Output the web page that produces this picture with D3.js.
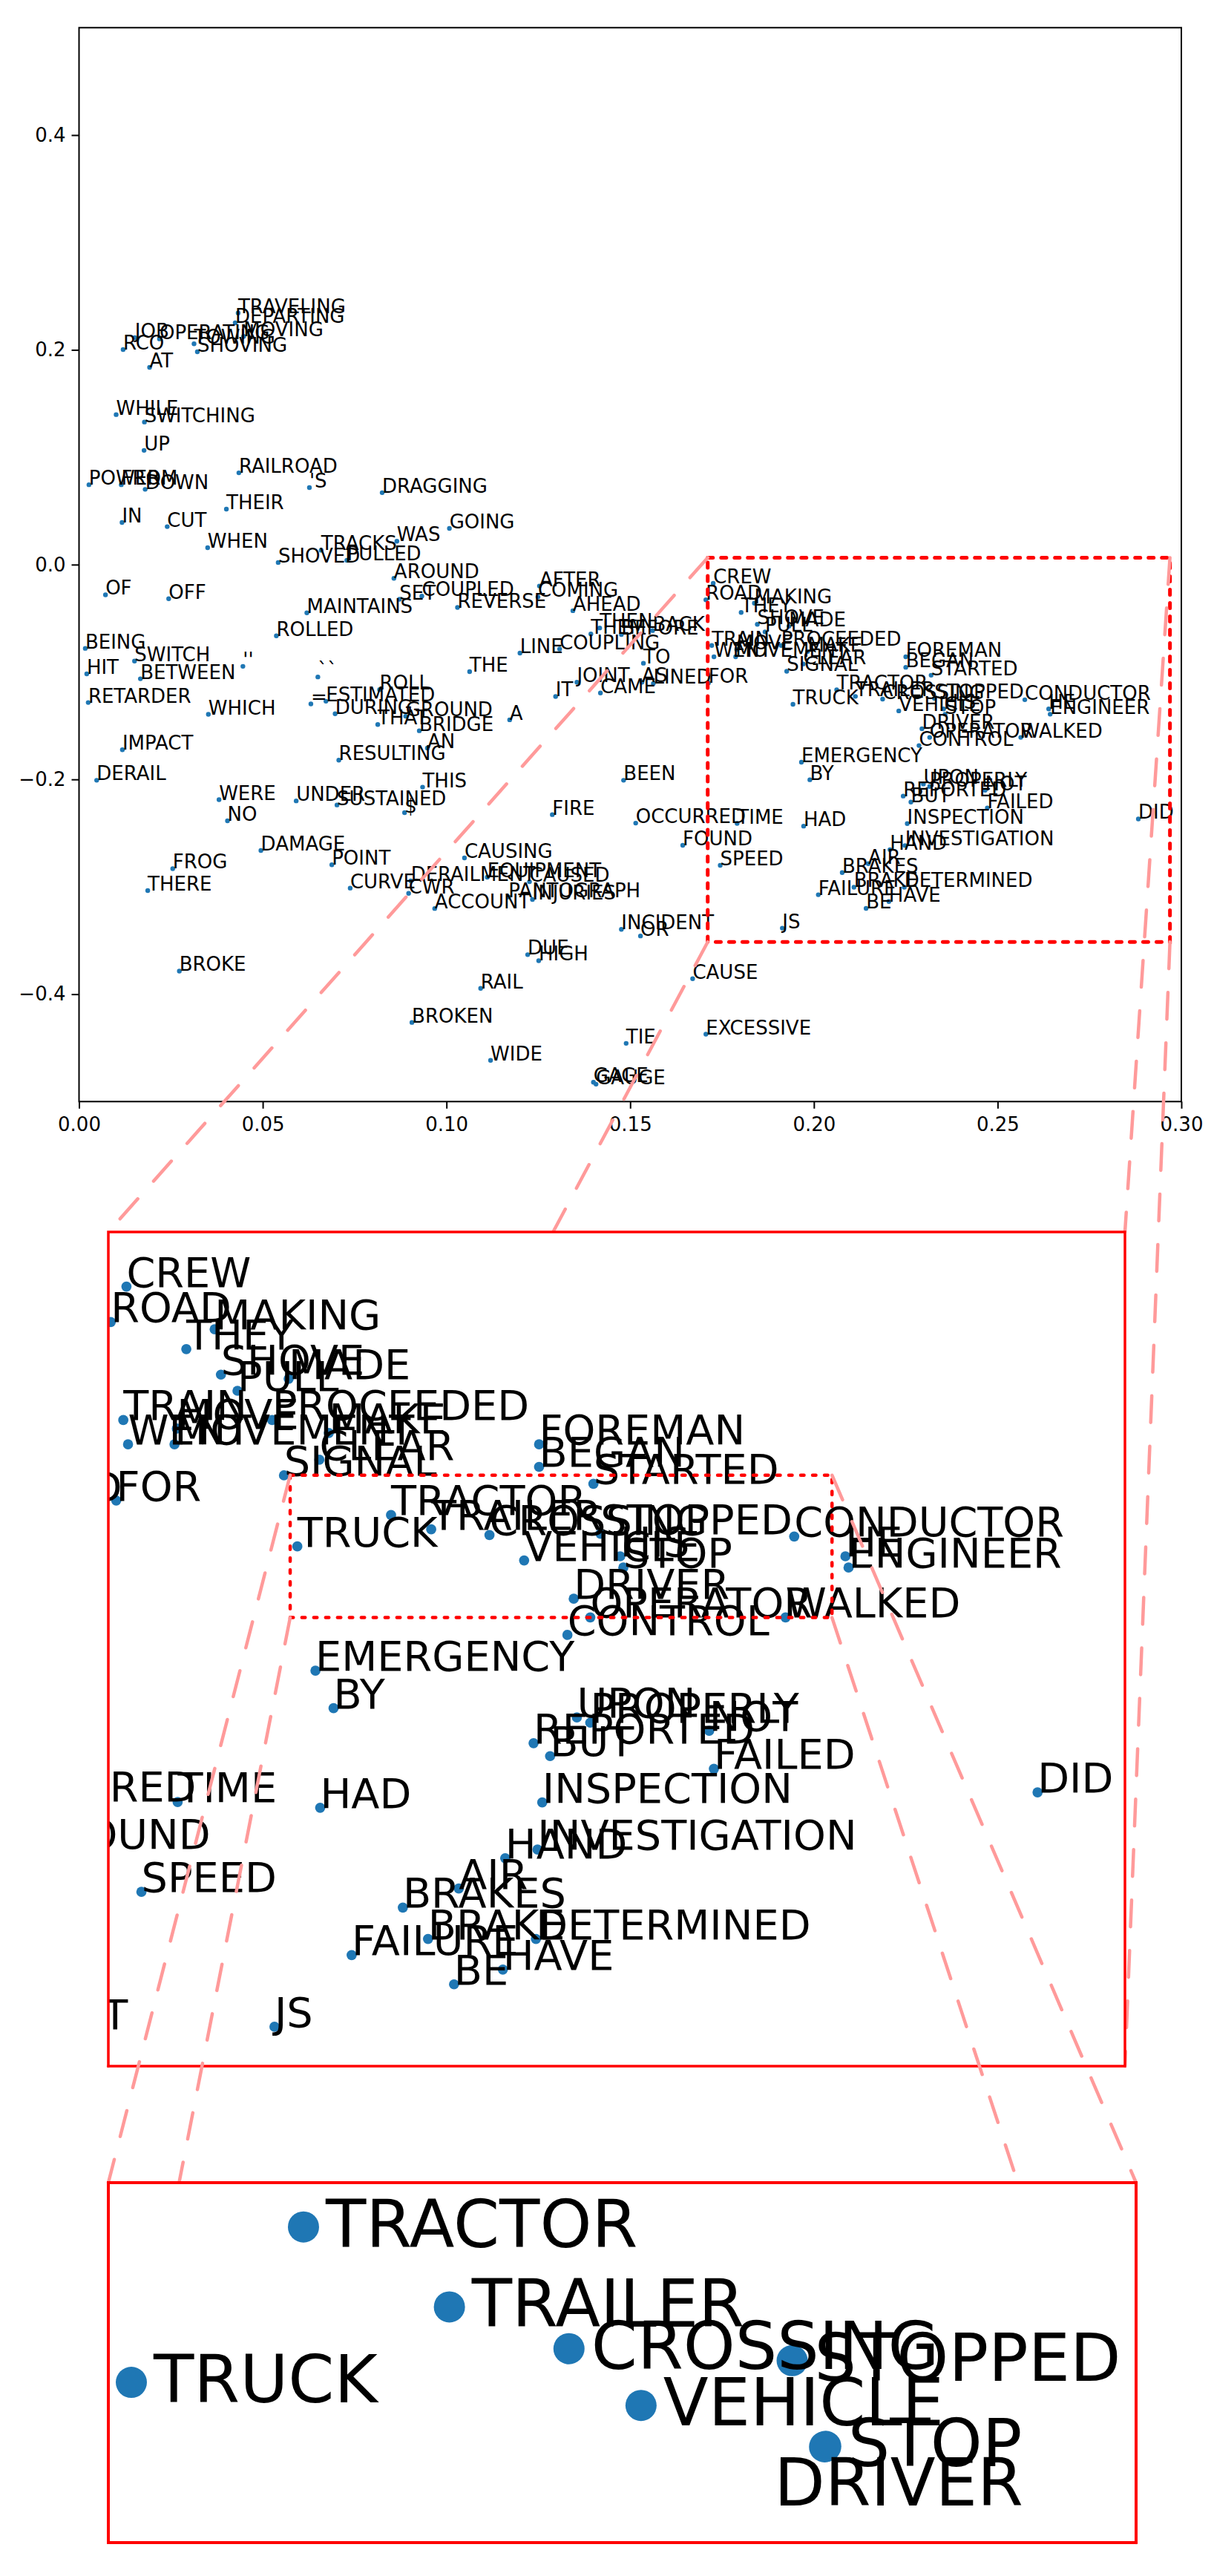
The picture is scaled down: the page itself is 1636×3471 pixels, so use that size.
<!DOCTYPE html>
<html>
<head>
<meta charset="utf-8">
<script src="https://cdn.jsdelivr.net/npm/d3@7"></script>
<style>
  body { margin: 0; background: #fff; }
  text { font-family: "DejaVu Sans", sans-serif; }
</style>
</head>
<body>
<div id="container"></div>
<script>
/**
 * DATA
 * */
const words = ["TRAVELING","DEPARTING","MOVING","JOB","OPERATING","RCO","TOWING","SHOVING","AT",
  "WHILE","SWITCHING","UP","POWER","FROM","DOWN","RAILROAD","'S","DRAGGING","THEIR","IN","CUT","WHEN",
  "GOING","WAS","TRACKS","SHOVED","PULLED","AROUND","SET","COUPLED","REVERSE","OF","OFF","MAINTAINS",
  "ROLLED","BEING","SWITCH","HIT","BETWEEN","''","``","ROLL","=","ESTIMATED","RETARDER","WHICH","DURING",
  "GROUND","A","THAT","BRIDGE","AN","RESULTING","IMPACT","DERAIL","THIS","WERE","UNDER","SUSTAINED","$",
  "NO","DAMAGE","POINT","FROG","THERE","CURVE","CWR","DERAILMENT","CAUSED","EQUIPMENT","CAUSING",
  "PANTOGRAPH","INJURIES","ACCOUNT","BROKE","BROKEN","IT","CAME","BEEN","FIRE","OCCURRED","FOUND",
  "INCIDENT","OR","DUE","HIGH","CAUSE","RAIL","TIE","EXCESSIVE","WIDE","GAGE","GAUGE","AFTER","COMING",
  "AHEAD","THEN","BACK","THEM","BEFORE","LINE","COUPLING","TO","THE","JOINT","AS","LINED","FOR",
  "CREW","ROAD","MAKING","THEY","SHOVE","MADE","PULL","PROCEEDED","TRAIN","MOVE","WENT","MOVEMENT",
  "MAKE","CLEAR","SIGNAL","FOREMAN","BEGAN","STARTED","TRACTOR","TRUCK","TRAILER","CROSSING","STOPPED",
  "CONDUCTOR","HE","ENGINEER","VEHICLE","HIS","STOP","DRIVER","OPERATOR","WALKED","CONTROL","EMERGENCY",
  "BY","UPON","PROPERLY","NOT","REPORTED","BUT","FAILED","DID","INSPECTION","TIME","HAD","INVESTIGATION",
  "HAND","SPEED","AIR","BRAKES","BRAKE","DETERMINED","FAILURE","HAVE","BE","JS"];

const xVals = [0.0433,0.0425,0.0448,0.0152,0.0219,0.0120,0.0313,0.0322,0.0192,
  0.0101,0.0178,0.0177,0.0027,0.0115,0.0180,0.0435,0.0627,0.0825,0.0401,0.0117,0.0240,0.0350,
  0.1008,0.0865,0.0659,0.0542,0.0729,0.0857,0.0872,0.0933,0.1030,0.0072,0.0244,0.0620,
  0.0537,0.0017,0.0151,0.0021,0.0167,0.0446,0.0650,0.0818,0.0631,0.0672,0.0025,0.0352,0.0697,
  0.0889,0.1172,0.0813,0.0926,0.0948,0.0707,0.0118,0.0048,0.0935,0.0381,0.0591,0.0702,0.0886,
  0.0404,0.0495,0.0688,0.0255,0.0187,0.0738,0.0897,0.0903,0.1226,0.1111,0.1049,
  0.1169,0.1234,0.0968,0.0273,0.0906,0.1297,0.1419,0.1482,0.1288,0.1515,0.1643,
  0.1476,0.1528,0.1221,0.1251,0.1670,0.1093,0.1489,0.1706,0.1120,0.1400,0.1407,0.1253,0.1249,
  0.1344,0.1417,0.1561,0.1393,0.1476,0.1200,0.1308,0.1536,0.1063,0.1355,0.1532,0.1563,0.1713,
  0.1726,0.1706,0.1838,0.1802,0.1846,0.1932,0.1867,0.1911,0.1722,0.1790,0.1728,0.1787,
  0.1983,0.1971,0.1926,0.2250,0.2250,0.2319,0.2062,0.1943,0.2113,0.2187,0.2328,
  0.2574,0.2639,0.2643,0.2231,0.2353,0.2357,0.2294,0.2315,0.2563,0.2286,0.1966,
  0.1989,0.2298,0.2315,0.2466,0.2243,0.2264,0.2472,0.2883,0.2254,0.1791,0.1972,0.2248,
  0.2207,0.1745,0.2148,0.2077,0.2109,0.2246,0.2012,0.2204,0.2142,0.1914];

const yVals = [0.2343,0.2252,0.2125,0.2113,0.2102,0.2003,0.2056,0.1982,0.1837,
  0.1397,0.1328,0.1064,0.0744,0.0744,0.0701,0.0855,0.0717,0.0670,0.0517,0.0393,0.0354,0.0158,
  0.0337,0.0218,0.0134,0.0020,0.0040,-0.0128,-0.0323,-0.0293,-0.0399,-0.0281,-0.0318,-0.0449,
  -0.0663,-0.0780,-0.0898,-0.1017,-0.1063,-0.0947,-0.1046,-0.1164,-0.1297,-0.1272,-0.1284,-0.1394,-0.1389,
  -0.1412,-0.1445,-0.1489,-0.1547,-0.1708,-0.1821,-0.1724,-0.2008,-0.2072,-0.2189,-0.2200,-0.2238,-0.2310,
  -0.2386,-0.2662,-0.2795,-0.2831,-0.3035,-0.3012,-0.3061,-0.2945,-0.2953,-0.2911,-0.2731,
  -0.3095,-0.3118,-0.3202,-0.3785,-0.4263,-0.1228,-0.1195,-0.2008,-0.2328,-0.2407,-0.2614,
  -0.3396,-0.3458,-0.3632,-0.3688,-0.3856,-0.3946,-0.4458,-0.4373,-0.4616,-0.4820,-0.4838,-0.0199,-0.0301,
  -0.0429,-0.0590,-0.0614,-0.0646,-0.0651,-0.0824,-0.0786,-0.0918,-0.0997,-0.1095,-0.1095,-0.1107,-0.1102,
  -0.0174,-0.0328,-0.0359,-0.0445,-0.0556,-0.0574,-0.0626,-0.0753,-0.0753,-0.0790,-0.0858,-0.0858,
  -0.0809,-0.0925,-0.0993,-0.0858,-0.0956,-0.1030,-0.1165,-0.1301,-0.1227,-0.1252,-0.1246,
  -0.1258,-0.1344,-0.1393,-0.1362,-0.1344,-0.1393,-0.1528,-0.1609,-0.1609,-0.1685,-0.1840,
  -0.2003,-0.2043,-0.2066,-0.2101,-0.2155,-0.2211,-0.2266,-0.2368,-0.2412,-0.2410,-0.2435,-0.2616,
  -0.2654,-0.2800,-0.2785,-0.2868,-0.3004,-0.3004,-0.3074,-0.3137,-0.3201,-0.3385];

// second zoom level, re-plotted on its own
const detailWords = ["TRUCK","TRACTOR","TRAILER","CROSSING","STOPPED","VEHICLE","STOP","DRIVER"];
const detailX = [0.19427,0.20452,0.21321,0.22033,0.23362,0.22462,0.23562,0.23555];
const detailY = [-0.13265,-0.1165,-0.12481,-0.12915,-0.13039,-0.13505,-0.1393,-0.13935];

const xTicks = [0, 0.05, 0.10, 0.15, 0.20, 0.25, 0.30];
const yTicks = [-0.4, -0.2, 0.0, 0.2, 0.4];

// zoom windows (data units)
const zoomBox = {x0: 0.1711, x1: 0.2969, y0: 0.0065, y1: -0.3514};
const zoomView = {x0: 0.1703, x1: 0.2994, y0: 0.0063, y1: -0.3556};
const subBox = {x0: 0.19339, x1: 0.26220, y0: -0.09923, y1: -0.16100};
const subView = {x0: 0.1929, x1: 0.2541, y0: -0.1119, y1: -0.1493};

// label placement in the last panel (px), DRIVER got pushed below STOP
const labelShift = {DRIVER: [-68, 79]};

const points = words.map((w, i) => ({w: w, x: xVals[i], y: yVals[i]}));
const detail = detailWords.map((w, i) => ({w: w, x: detailX[i], y: detailY[i]}));

/**
 * SETUP
 * */
const width = 1636, height = 3471;
const blue = "#1f77b4";
const pink = "#ff9a9a";

const svg = d3.select("#container").append("svg")
  .attr("width", width).attr("height", height);
svg.append("rect").attr("width", width).attr("height", height).attr("fill", "#fff");

// main axes
const x = d3.scaleLinear().domain([0, 0.3]).range([106.5, 1592]);
const y = d3.scaleLinear().domain([-0.5, 0.5]).range([1484.3, 37.3]);

const main = svg.append("g");

main.selectAll("circle").data(points).join("circle")
  .attr("cx", d => x(d.x)).attr("cy", d => y(d.y))
  .attr("r", 3.2).attr("fill", blue);

main.selectAll("text.word").data(points).join("text")
  .attr("class", "word")
  .attr("x", d => x(d.x)).attr("y", d => y(d.y))
  .style("font-size", "26px").attr("fill", "#000")
  .text(d => d.w);

const xAxis = main.append("g").attr("transform", `translate(0,${y(-0.5)})`)
  .call(d3.axisBottom(x).tickValues(xTicks).tickFormat(d3.format(".2f")).tickSize(9.5).tickPadding(12));
const yAxis = main.append("g").attr("transform", `translate(${x(0)},0)`)
  .call(d3.axisLeft(y).tickValues(yTicks).tickFormat(d3.format(".1f")).tickSize(10).tickPadding(8));
[xAxis, yAxis].forEach(g => {
  g.select(".domain").remove();
  g.selectAll("line").attr("stroke", "#000").attr("stroke-width", 2);
  g.selectAll("text").style("font-size", "26px").style("font-family", "DejaVu Sans").attr("fill", "#000");
});

main.append("rect")
  .attr("x", x(0)).attr("y", y(0.5))
  .attr("width", x(0.3) - x(0)).attr("height", y(-0.5) - y(0.5))
  .attr("fill", "none").attr("stroke", "#000").attr("stroke-width", 2);

// dotted zoom box on main
const boxPx = {l: x(zoomBox.x0), r: x(zoomBox.x1), t: y(zoomBox.y0), b: y(zoomBox.y1)};
main.append("rect")
  .attr("x", boxPx.l).attr("y", boxPx.t)
  .attr("width", boxPx.r - boxPx.l).attr("height", boxPx.b - boxPx.t)
  .attr("fill", "none").attr("stroke", "#ff0000").attr("stroke-width", 5)
  .attr("stroke-dasharray", "7,11").attr("stroke-linecap", "round");

// first inset
const p2 = {l: 146, r: 1516, t: 1660, b: 2784};
const x2 = d3.scaleLinear().domain([zoomView.x0, zoomView.x1]).range([p2.l, p2.r]);
const y2 = d3.scaleLinear().domain([zoomView.y0, zoomView.y1]).range([p2.t, p2.b]);
const mag2 = (p2.r - p2.l) / (x(zoomView.x1) - x(zoomView.x0));

function connectors(from, to) {
  const pairs = [[from.l, from.t, to.l, to.t], [from.l, from.b, to.l, to.b],
                 [from.r, from.t, to.r, to.t], [from.r, from.b, to.r, to.b]];
  svg.append("g").selectAll("line").data(pairs).join("line")
    .attr("x1", d => d[0]).attr("y1", d => d[1]).attr("x2", d => d[2]).attr("y2", d => d[3])
    .attr("stroke", pink).attr("stroke-width", 4.5)
    .attr("stroke-dasharray", "36,32").attr("stroke-linecap", "round");
}
connectors(boxPx, p2);

// only the words that can show inside the inset
const near = points.filter(d => x2(d.x) > p2.l - 420 && x2(d.x) < p2.r
  && y2(d.y) > p2.t && y2(d.y) < p2.b + 60);

svg.append("clipPath").attr("id", "clip2").append("rect")
  .attr("x", p2.l).attr("y", p2.t).attr("width", p2.r - p2.l).attr("height", p2.b - p2.t);
const inset = svg.append("g");
inset.append("rect").attr("x", p2.l).attr("y", p2.t)
  .attr("width", p2.r - p2.l).attr("height", p2.b - p2.t).attr("fill", "#fff");
const inner = inset.append("g").attr("clip-path", "url(#clip2)");
inner.selectAll("circle").data(near).join("circle")
  .attr("cx", d => x2(d.x)).attr("cy", d => y2(d.y))
  .attr("r", 3.2 * mag2).attr("fill", blue);
inner.selectAll("text").data(near).join("text")
  .attr("x", d => x2(d.x)).attr("y", d => y2(d.y))
  .style("font-size", (26 * mag2) + "px").attr("fill", "#000")
  .text(d => d.w);

const subPx = {l: x2(subBox.x0), r: x2(subBox.x1), t: y2(subBox.y0), b: y2(subBox.y1)};
inset.append("rect")
  .attr("x", subPx.l).attr("y", subPx.t)
  .attr("width", subPx.r - subPx.l).attr("height", subPx.b - subPx.t)
  .attr("fill", "none").attr("stroke", "#ff0000").attr("stroke-width", 4.5)
  .attr("stroke-dasharray", "4.5,11.5").attr("stroke-linecap", "round");
inset.append("rect").attr("x", p2.l).attr("y", p2.t)
  .attr("width", p2.r - p2.l).attr("height", p2.b - p2.t)
  .attr("fill", "none").attr("stroke", "#ff0000").attr("stroke-width", 3.5);

// second inset
const p3 = {l: 146, r: 1531, t: 2941, b: 3426};
connectors(subPx, p3);
const x3 = d3.scaleLinear().domain([subView.x0, subView.x1]).range([p3.l, p3.r]);
const y3 = d3.scaleLinear().domain([subView.y0, subView.y1]).range([p3.t, p3.b]);

svg.append("clipPath").attr("id", "clip3").append("rect")
  .attr("x", p3.l).attr("y", p3.t).attr("width", p3.r - p3.l).attr("height", p3.b - p3.t);
const inset3 = svg.append("g");
inset3.append("rect").attr("x", p3.l).attr("y", p3.t)
  .attr("width", p3.r - p3.l).attr("height", p3.b - p3.t).attr("fill", "#fff");
const inner3 = inset3.append("g").attr("clip-path", "url(#clip3)");
inner3.selectAll("circle").data(detail).join("circle")
  .attr("cx", d => x3(d.x)).attr("cy", d => y3(d.y))
  .attr("r", 21).attr("fill", blue);
inner3.selectAll("text").data(detail).join("text")
  .attr("x", d => x3(d.x) + (labelShift[d.w] ? labelShift[d.w][0] : 30))
  .attr("y", d => y3(d.y) + (labelShift[d.w] ? labelShift[d.w][1] : 27))
  .style("font-size", "89px").attr("fill", "#000")
  .text(d => d.w);
inset3.append("rect").attr("x", p3.l).attr("y", p3.t)
  .attr("width", p3.r - p3.l).attr("height", p3.b - p3.t)
  .attr("fill", "none").attr("stroke", "#ff0000").attr("stroke-width", 4);
</script>
</body>
</html>
